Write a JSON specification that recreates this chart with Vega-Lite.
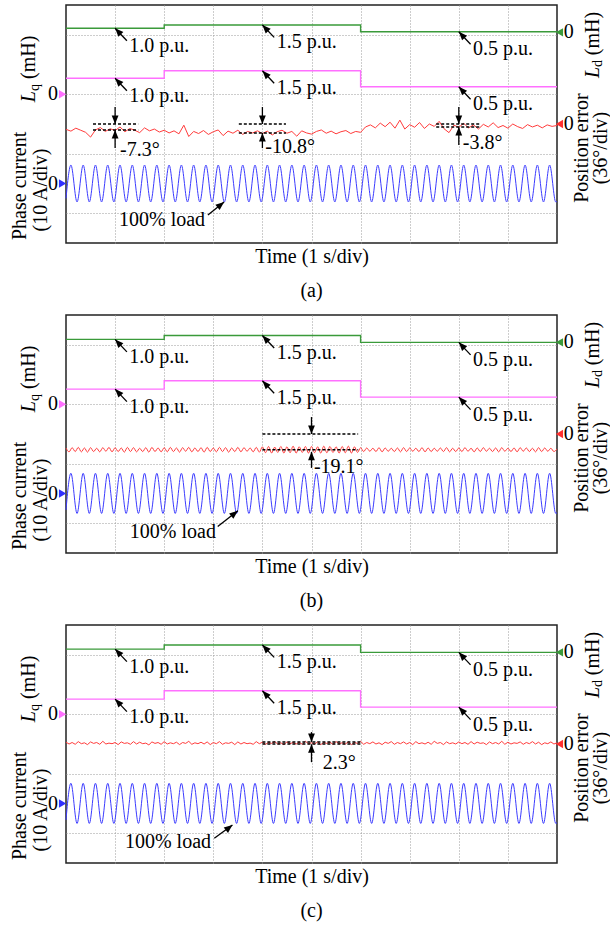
{
"$schema":"https://vega.github.io/schema/vega-lite/v6.json",
"background":"white",
"padding":{"left":9,"top":4,"right":0,"bottom":4},
"bounds":"flush",
"spacing":72,
"config":{
 "view":{"stroke":"#222222","strokeWidth":1.5},
 "axis":{"labels":false,"ticks":false,"domain":false,"grid":true,"gridColor":"#9a9a9a","gridDash":[1,2],"gridWidth":1,"titleFont":"Liberation Serif","titleFontSize":20,"titleFontWeight":"normal","titleColor":"#000000","titlePadding":3},
 "title":{"orient":"bottom","font":"Liberation Serif","fontSize":20,"fontWeight":"normal","color":"#000000","frame":"group","anchor":"middle","offset":15},
 "text":{"font":"Liberation Serif","fontSize":20,"color":"#000000"}
},
"datasets":{
"steps":[{"p":"a","c":"g","t":0,"v":7.22},{"p":"a","c":"g","t":2,"v":7.33},{"p":"a","c":"g","t":6,"v":7.1},{"p":"a","c":"g","t":10,"v":7.1},
{"p":"a","c":"m","t":0,"v":5.54},{"p":"a","c":"m","t":2,"v":5.79},{"p":"a","c":"m","t":6,"v":5.25},{"p":"a","c":"m","t":10,"v":5.25},
{"p":"b","c":"g","t":0,"v":7.18},{"p":"b","c":"g","t":2,"v":7.31},{"p":"b","c":"g","t":6,"v":7.08},{"p":"b","c":"g","t":10,"v":7.08},
{"p":"b","c":"m","t":0,"v":5.51},{"p":"b","c":"m","t":2,"v":5.79},{"p":"b","c":"m","t":6,"v":5.24},{"p":"b","c":"m","t":10,"v":5.24},
{"p":"c","c":"g","t":0,"v":7.19},{"p":"c","c":"g","t":2,"v":7.33},{"p":"c","c":"g","t":6,"v":7.08},{"p":"c","c":"g","t":10,"v":7.08},
{"p":"c","c":"m","t":0,"v":5.51},{"p":"c","c":"m","t":2,"v":5.79},{"p":"c","c":"m","t":6,"v":5.24},{"p":"c","c":"m","t":10,"v":5.24}],
"labels":[{"p":"a","t":1.29,"v":6.63,"txt":"1.0 p.u."},{"p":"a","t":4.29,"v":6.74,"txt":"1.5 p.u."},{"p":"a","t":8.29,"v":6.51,"txt":"0.5 p.u."},{"p":"a","t":1.29,"v":4.95,"txt":"1.0 p.u."},{"p":"a","t":4.29,"v":5.2,"txt":"1.5 p.u."},{"p":"a","t":8.29,"v":4.66,"txt":"0.5 p.u."},{"p":"a","t":1.08,"v":0.77,"txt":"100% load"},{"p":"a","t":1.1,"v":3.13,"txt":"-7.3°"},{"p":"a","t":4.06,"v":3.23,"txt":"-10.8°"},{"p":"a","t":8.08,"v":3.36,"txt":"-3.8°"},
{"p":"b","t":1.29,"v":6.59,"txt":"1.0 p.u."},{"p":"b","t":4.29,"v":6.72,"txt":"1.5 p.u."},{"p":"b","t":8.29,"v":6.49,"txt":"0.5 p.u."},{"p":"b","t":1.29,"v":4.92,"txt":"1.0 p.u."},{"p":"b","t":4.29,"v":5.2,"txt":"1.5 p.u."},{"p":"b","t":8.29,"v":4.65,"txt":"0.5 p.u."},{"p":"b","t":1.3,"v":0.72,"txt":"100% load"},{"p":"b","t":5.05,"v":2.89,"txt":"-19.1°"},
{"p":"c","t":1.29,"v":6.6,"txt":"1.0 p.u."},{"p":"c","t":4.29,"v":6.74,"txt":"1.5 p.u."},{"p":"c","t":8.29,"v":6.49,"txt":"0.5 p.u."},{"p":"c","t":1.29,"v":4.92,"txt":"1.0 p.u."},{"p":"c","t":4.29,"v":5.2,"txt":"1.5 p.u."},{"p":"c","t":8.29,"v":4.65,"txt":"0.5 p.u."},{"p":"c","t":1.2,"v":0.72,"txt":"100% load"},{"p":"c","t":5.23,"v":3.36,"txt":"2.3°"}],
"arrows":[{"p":"a","d":"ul","t":1.24,"v":6.8,"t2":1,"v2":7.22},{"p":"a","d":"ul","t":4.24,"v":6.91,"t2":4,"v2":7.33},{"p":"a","d":"ul","t":8.24,"v":6.68,"t2":8,"v2":7.1},
{"p":"a","d":"ul","t":1.24,"v":5.12,"t2":1,"v2":5.54},{"p":"a","d":"ul","t":4.24,"v":5.37,"t2":4,"v2":5.79},{"p":"a","d":"ul","t":8.24,"v":4.83,"t2":8,"v2":5.25},
{"p":"a","d":"ur","t":2.89,"v":0.94,"t2":3.22,"v2":1.38},
{"p":"a","d":"dn","t":1,"v":4.57,"t2":1,"v2":4.0},{"p":"a","d":"up","t":1,"v":3.19,"t2":1,"v2":3.8},
{"p":"a","d":"dn","t":4,"v":4.57,"t2":4,"v2":4.0},{"p":"a","d":"up","t":4,"v":3.19,"t2":4,"v2":3.7},
{"p":"a","d":"dn","t":8,"v":4.57,"t2":8,"v2":4.0},{"p":"a","d":"up","t":8,"v":3.29,"t2":8,"v2":3.9},
{"p":"b","d":"ul","t":1.24,"v":6.76,"t2":1,"v2":7.18},{"p":"b","d":"ul","t":4.24,"v":6.89,"t2":4,"v2":7.31},{"p":"b","d":"ul","t":8.24,"v":6.66,"t2":8,"v2":7.08},
{"p":"b","d":"ul","t":1.24,"v":5.09,"t2":1,"v2":5.51},{"p":"b","d":"ul","t":4.24,"v":5.37,"t2":4,"v2":5.79},{"p":"b","d":"ul","t":8.24,"v":4.82,"t2":8,"v2":5.24},
{"p":"b","d":"ur","t":3.09,"v":0.89,"t2":3.5,"v2":1.42},
{"p":"b","d":"dn","t":5,"v":4.57,"t2":5,"v2":4.0},{"p":"b","d":"up","t":5,"v":2.86,"t2":5,"v2":3.4},
{"p":"c","d":"ul","t":1.24,"v":6.77,"t2":1,"v2":7.19},{"p":"c","d":"ul","t":4.24,"v":6.91,"t2":4,"v2":7.33},{"p":"c","d":"ul","t":8.24,"v":6.66,"t2":8,"v2":7.08},
{"p":"c","d":"ul","t":1.24,"v":5.09,"t2":1,"v2":5.51},{"p":"c","d":"ul","t":4.24,"v":5.37,"t2":4,"v2":5.79},{"p":"c","d":"ul","t":8.24,"v":4.82,"t2":8,"v2":5.24},
{"p":"c","d":"ur","t":3.02,"v":0.83,"t2":3.39,"v2":1.28},
{"p":"c","d":"dn","t":5,"v":4.4,"t2":5,"v2":4.07},{"p":"c","d":"up","t":5,"v":3.39,"t2":5,"v2":3.99}],
"dash":[{"p":"a","t":0.55,"t2":1.47,"v":4.0},{"p":"a","t":0.55,"t2":1.47,"v":3.8},{"p":"a","t":3.52,"t2":4.48,"v":4.0},{"p":"a","t":3.52,"t2":4.48,"v":3.7},{"p":"a","t":7.54,"t2":8.45,"v":4.0},{"p":"a","t":7.54,"t2":8.45,"v":3.9},
{"p":"b","t":4.0,"t2":5.95,"v":4.0},{"p":"b","t":4.0,"t2":5.95,"v":3.47},
{"p":"c","t":4.0,"t2":6.0,"v":4.064},{"p":"c","t":4.0,"t2":6.0,"v":4.0}],
"side":[{"k":"r","t":-0.754,"v":6.24,"txt":"(mH)"},{"k":"i","t":-0.754,"v":4.92,"txt":"L"},{"k":"s","t":-0.641,"v":5.23,"txt":"q"},{"k":"r","t":-0.937,"v":1.92,"txt":"Phase current"},{"k":"r","t":-0.509,"v":1.78,"txt":"(10 A/div)"},
{"k":"i","t":10.733,"v":5.73,"txt":"L"},{"k":"s","t":10.845,"v":6.03,"txt":"d"},{"k":"r","t":10.733,"v":7.04,"txt":"(mH)"},{"k":"r","t":10.51,"v":3.19,"txt":"Position error"},{"k":"r","t":10.896,"v":3.19,"txt":"(36°/div)"},
{"k":"z","t":-0.265,"v":5,"txt":"0"},{"k":"z","t":-0.265,"v":2,"txt":"0"},{"k":"z","t":10.24,"v":7.08,"txt":"0"},{"k":"z","t":10.24,"v":4,"txt":"0"}],
"tri":[{"s":"m","side":"L","t":-0.07,"v":5},{"s":"b","side":"L","t":-0.07,"v":2},{"s":"g","side":"R","t":10.05,"v":7.08},{"s":"r","side":"R","t":10.05,"v":4}],
"cur_a":[{"t":0,"v":1.5},
{"t":0.1,"v":2.62},{"t":0.225,"v":1.38},{"t":0.35,"v":2.62},{"t":0.475,"v":1.38},{"t":0.6,"v":2.62},{"t":0.725,"v":1.38},{"t":0.85,"v":2.62},{"t":0.975,"v":1.38},
{"t":1.1,"v":2.62},{"t":1.225,"v":1.38},{"t":1.35,"v":2.62},{"t":1.475,"v":1.38},{"t":1.6,"v":2.62},{"t":1.725,"v":1.38},{"t":1.85,"v":2.62},{"t":1.975,"v":1.38},
{"t":2.1,"v":2.62},{"t":2.225,"v":1.38},{"t":2.35,"v":2.62},{"t":2.475,"v":1.38},{"t":2.6,"v":2.62},{"t":2.725,"v":1.38},{"t":2.85,"v":2.62},{"t":2.975,"v":1.38},
{"t":3.1,"v":2.62},{"t":3.225,"v":1.38},{"t":3.35,"v":2.62},{"t":3.475,"v":1.38},{"t":3.6,"v":2.62},{"t":3.725,"v":1.38},{"t":3.85,"v":2.62},{"t":3.975,"v":1.38},
{"t":4.1,"v":2.62},{"t":4.225,"v":1.38},{"t":4.35,"v":2.62},{"t":4.475,"v":1.38},{"t":4.6,"v":2.62},{"t":4.725,"v":1.38},{"t":4.85,"v":2.62},{"t":4.975,"v":1.38},
{"t":5.1,"v":2.62},{"t":5.225,"v":1.38},{"t":5.35,"v":2.62},{"t":5.475,"v":1.38},{"t":5.6,"v":2.62},{"t":5.725,"v":1.38},{"t":5.85,"v":2.62},{"t":5.975,"v":1.38},
{"t":6.1,"v":2.62},{"t":6.225,"v":1.38},{"t":6.35,"v":2.62},{"t":6.475,"v":1.38},{"t":6.6,"v":2.62},{"t":6.725,"v":1.38},{"t":6.85,"v":2.62},{"t":6.975,"v":1.38},
{"t":7.1,"v":2.62},{"t":7.225,"v":1.38},{"t":7.35,"v":2.62},{"t":7.475,"v":1.38},{"t":7.6,"v":2.62},{"t":7.725,"v":1.38},{"t":7.85,"v":2.62},{"t":7.975,"v":1.38},
{"t":8.1,"v":2.62},{"t":8.225,"v":1.38},{"t":8.35,"v":2.62},{"t":8.475,"v":1.38},{"t":8.6,"v":2.62},{"t":8.725,"v":1.38},{"t":8.85,"v":2.62},{"t":8.975,"v":1.38},
{"t":9.1,"v":2.62},{"t":9.225,"v":1.38},{"t":9.35,"v":2.62},{"t":9.475,"v":1.38},{"t":9.6,"v":2.62},{"t":9.725,"v":1.38},{"t":9.85,"v":2.62},{"t":9.975,"v":1.38},
{"t":10,"v":1.4}],
"cur_bc":[{"t":0,"v":1.45},
{"t":0.1,"v":2.68},{"t":0.225,"v":1.33},{"t":0.35,"v":2.68},{"t":0.475,"v":1.33},{"t":0.6,"v":2.68},{"t":0.725,"v":1.33},{"t":0.85,"v":2.68},{"t":0.975,"v":1.33},
{"t":1.1,"v":2.68},{"t":1.225,"v":1.33},{"t":1.35,"v":2.68},{"t":1.475,"v":1.33},{"t":1.6,"v":2.68},{"t":1.725,"v":1.33},{"t":1.85,"v":2.68},{"t":1.975,"v":1.33},
{"t":2.1,"v":2.68},{"t":2.225,"v":1.33},{"t":2.35,"v":2.68},{"t":2.475,"v":1.33},{"t":2.6,"v":2.68},{"t":2.725,"v":1.33},{"t":2.85,"v":2.68},{"t":2.975,"v":1.33},
{"t":3.1,"v":2.68},{"t":3.225,"v":1.33},{"t":3.35,"v":2.68},{"t":3.475,"v":1.33},{"t":3.6,"v":2.68},{"t":3.725,"v":1.33},{"t":3.85,"v":2.68},{"t":3.975,"v":1.33},
{"t":4.1,"v":2.68},{"t":4.225,"v":1.33},{"t":4.35,"v":2.68},{"t":4.475,"v":1.33},{"t":4.6,"v":2.68},{"t":4.725,"v":1.33},{"t":4.85,"v":2.68},{"t":4.975,"v":1.33},
{"t":5.1,"v":2.68},{"t":5.225,"v":1.33},{"t":5.35,"v":2.68},{"t":5.475,"v":1.33},{"t":5.6,"v":2.68},{"t":5.725,"v":1.33},{"t":5.85,"v":2.68},{"t":5.975,"v":1.33},
{"t":6.1,"v":2.68},{"t":6.225,"v":1.33},{"t":6.35,"v":2.68},{"t":6.475,"v":1.33},{"t":6.6,"v":2.68},{"t":6.725,"v":1.33},{"t":6.85,"v":2.68},{"t":6.975,"v":1.33},
{"t":7.1,"v":2.68},{"t":7.225,"v":1.33},{"t":7.35,"v":2.68},{"t":7.475,"v":1.33},{"t":7.6,"v":2.68},{"t":7.725,"v":1.33},{"t":7.85,"v":2.68},{"t":7.975,"v":1.33},
{"t":8.1,"v":2.68},{"t":8.225,"v":1.33},{"t":8.35,"v":2.68},{"t":8.475,"v":1.33},{"t":8.6,"v":2.68},{"t":8.725,"v":1.33},{"t":8.85,"v":2.68},{"t":8.975,"v":1.33},
{"t":9.1,"v":2.68},{"t":9.225,"v":1.33},{"t":9.35,"v":2.68},{"t":9.475,"v":1.33},{"t":9.6,"v":2.68},{"t":9.725,"v":1.33},{"t":9.85,"v":2.68},{"t":9.975,"v":1.33},
{"t":10,"v":1.36}],
"err_a":[{"t":0,"v":3.82},{"t":0.1,"v":3.76},{"t":0.2,"v":3.86},{"t":0.3,"v":3.79},{"t":0.4,"v":3.72},{"t":0.5,"v":3.56},{"t":0.6,"v":3.8},{"t":0.7,"v":3.88},{"t":0.8,"v":3.75},{"t":0.9,"v":3.84},
{"t":1,"v":3.78},{"t":1.1,"v":3.9},{"t":1.2,"v":3.74},{"t":1.3,"v":3.85},{"t":1.4,"v":3.79},{"t":1.5,"v":3.71},{"t":1.6,"v":3.87},{"t":1.7,"v":3.77},{"t":1.8,"v":3.83},{"t":1.9,"v":3.73},
{"t":2,"v":3.79},{"t":2.1,"v":3.7},{"t":2.2,"v":3.77},{"t":2.3,"v":3.67},{"t":2.4,"v":3.96},{"t":2.5,"v":3.58},{"t":2.6,"v":3.75},{"t":2.7,"v":3.68},{"t":2.8,"v":3.78},{"t":2.9,"v":3.65},
{"t":3,"v":3.74},{"t":3.1,"v":3.8},{"t":3.2,"v":3.61},{"t":3.3,"v":3.76},{"t":3.4,"v":3.69},{"t":3.5,"v":3.79},{"t":3.6,"v":3.65},{"t":3.7,"v":3.75},{"t":3.8,"v":3.7},{"t":3.9,"v":3.77},
{"t":4,"v":3.68},{"t":4.1,"v":3.76},{"t":4.2,"v":3.63},{"t":4.3,"v":3.74},{"t":4.4,"v":3.79},{"t":4.5,"v":3.69},{"t":4.6,"v":3.75},{"t":4.7,"v":3.59},{"t":4.8,"v":3.77},{"t":4.9,"v":3.7},
{"t":5,"v":3.66},{"t":5.1,"v":3.75},{"t":5.2,"v":3.8},{"t":5.3,"v":3.69},{"t":5.4,"v":3.76},{"t":5.5,"v":3.67},{"t":5.6,"v":3.74},{"t":5.7,"v":3.78},{"t":5.8,"v":3.68},{"t":5.9,"v":3.75},
{"t":6,"v":3.72},{"t":6.1,"v":3.9},{"t":6.2,"v":3.97},{"t":6.3,"v":3.87},{"t":6.4,"v":4.03},{"t":6.5,"v":3.91},{"t":6.6,"v":4.06},{"t":6.7,"v":3.86},{"t":6.8,"v":4.13},{"t":6.9,"v":3.83},
{"t":7,"v":3.98},{"t":7.1,"v":3.89},{"t":7.2,"v":4.05},{"t":7.3,"v":3.85},{"t":7.4,"v":4.0},{"t":7.5,"v":3.92},{"t":7.6,"v":4.09},{"t":7.7,"v":3.84},{"t":7.8,"v":3.71},{"t":7.9,"v":3.96},
{"t":8,"v":3.89},{"t":8.1,"v":4.02},{"t":8.2,"v":3.87},{"t":8.3,"v":3.97},{"t":8.4,"v":3.83},{"t":8.5,"v":3.99},{"t":8.6,"v":3.9},{"t":8.7,"v":4.04},{"t":8.8,"v":3.88},{"t":8.9,"v":3.95},
{"t":9,"v":3.86},{"t":9.1,"v":4.0},{"t":9.2,"v":3.91},{"t":9.3,"v":3.85},{"t":9.4,"v":3.98},{"t":9.5,"v":3.9},{"t":9.6,"v":3.96},{"t":9.7,"v":3.87},{"t":9.8,"v":3.97},{"t":9.9,"v":3.92},{"t":10,"v":3.95}],
"err_b":[
{"t":0,"v":3.53},{"t":0.0625,"v":3.4},{"t":0.125,"v":3.54},{"t":0.1875,"v":3.41},{"t":0.25,"v":3.55},{"t":0.3125,"v":3.4},{"t":0.375,"v":3.53},{"t":0.4375,"v":3.39},{"t":0.5,"v":3.54},{"t":0.5625,"v":3.41},{"t":0.625,"v":3.52},{"t":0.6875,"v":3.4},{"t":0.75,"v":3.54},{"t":0.8125,"v":3.42},{"t":0.875,"v":3.55},{"t":0.9375,"v":3.4},
{"t":1,"v":3.54},{"t":1.0625,"v":3.41},{"t":1.125,"v":3.53},{"t":1.1875,"v":3.39},{"t":1.25,"v":3.55},{"t":1.3125,"v":3.41},{"t":1.375,"v":3.54},{"t":1.4375,"v":3.4},{"t":1.5,"v":3.52},{"t":1.5625,"v":3.41},{"t":1.625,"v":3.54},{"t":1.6875,"v":3.39},{"t":1.75,"v":3.55},{"t":1.8125,"v":3.41},{"t":1.875,"v":3.53},{"t":1.9375,"v":3.4},
{"t":2,"v":3.54},{"t":2.0625,"v":3.4},{"t":2.125,"v":3.55},{"t":2.1875,"v":3.41},{"t":2.25,"v":3.53},{"t":2.3125,"v":3.39},{"t":2.375,"v":3.54},{"t":2.4375,"v":3.42},{"t":2.5,"v":3.55},{"t":2.5625,"v":3.4},{"t":2.625,"v":3.53},{"t":2.6875,"v":3.41},{"t":2.75,"v":3.54},{"t":2.8125,"v":3.39},{"t":2.875,"v":3.55},{"t":2.9375,"v":3.41},
{"t":3,"v":3.53},{"t":3.0625,"v":3.4},{"t":3.125,"v":3.55},{"t":3.1875,"v":3.41},{"t":3.25,"v":3.54},{"t":3.3125,"v":3.39},{"t":3.375,"v":3.53},{"t":3.4375,"v":3.41},{"t":3.5,"v":3.55},{"t":3.5625,"v":3.4},{"t":3.625,"v":3.54},{"t":3.6875,"v":3.42},{"t":3.75,"v":3.53},{"t":3.8125,"v":3.4},{"t":3.875,"v":3.55},{"t":3.9375,"v":3.39},
{"t":4,"v":3.57},{"t":4.0625,"v":3.37},{"t":4.125,"v":3.58},{"t":4.1875,"v":3.36},{"t":4.25,"v":3.56},{"t":4.3125,"v":3.38},{"t":4.375,"v":3.58},{"t":4.4375,"v":3.36},{"t":4.5,"v":3.57},{"t":4.5625,"v":3.37},{"t":4.625,"v":3.59},{"t":4.6875,"v":3.36},{"t":4.75,"v":3.57},{"t":4.8125,"v":3.38},{"t":4.875,"v":3.58},{"t":4.9375,"v":3.36},
{"t":5,"v":3.58},{"t":5.0625,"v":3.37},{"t":5.125,"v":3.57},{"t":5.1875,"v":3.36},{"t":5.25,"v":3.59},{"t":5.3125,"v":3.37},{"t":5.375,"v":3.58},{"t":5.4375,"v":3.38},{"t":5.5,"v":3.57},{"t":5.5625,"v":3.36},{"t":5.625,"v":3.58},{"t":5.6875,"v":3.37},{"t":5.75,"v":3.59},{"t":5.8125,"v":3.36},{"t":5.875,"v":3.57},{"t":5.9375,"v":3.38},
{"t":6,"v":3.54},{"t":6.0625,"v":3.41},{"t":6.125,"v":3.53},{"t":6.1875,"v":3.42},{"t":6.25,"v":3.52},{"t":6.3125,"v":3.41},{"t":6.375,"v":3.54},{"t":6.4375,"v":3.4},{"t":6.5,"v":3.53},{"t":6.5625,"v":3.42},{"t":6.625,"v":3.52},{"t":6.6875,"v":3.41},{"t":6.75,"v":3.53},{"t":6.8125,"v":3.4},{"t":6.875,"v":3.54},{"t":6.9375,"v":3.41},
{"t":7,"v":3.53},{"t":7.0625,"v":3.42},{"t":7.125,"v":3.52},{"t":7.1875,"v":3.41},{"t":7.25,"v":3.54},{"t":7.3125,"v":3.4},{"t":7.375,"v":3.53},{"t":7.4375,"v":3.41},{"t":7.5,"v":3.52},{"t":7.5625,"v":3.42},{"t":7.625,"v":3.53},{"t":7.6875,"v":3.41},{"t":7.75,"v":3.54},{"t":7.8125,"v":3.4},{"t":7.875,"v":3.52},{"t":7.9375,"v":3.41},
{"t":8,"v":3.53},{"t":8.0625,"v":3.41},{"t":8.125,"v":3.54},{"t":8.1875,"v":3.42},{"t":8.25,"v":3.52},{"t":8.3125,"v":3.4},{"t":8.375,"v":3.53},{"t":8.4375,"v":3.41},{"t":8.5,"v":3.54},{"t":8.5625,"v":3.42},{"t":8.625,"v":3.52},{"t":8.6875,"v":3.41},{"t":8.75,"v":3.53},{"t":8.8125,"v":3.4},{"t":8.875,"v":3.54},{"t":8.9375,"v":3.42},
{"t":9,"v":3.52},{"t":9.0625,"v":3.41},{"t":9.125,"v":3.53},{"t":9.1875,"v":3.4},{"t":9.25,"v":3.54},{"t":9.3125,"v":3.42},{"t":9.375,"v":3.53},{"t":9.4375,"v":3.41},{"t":9.5,"v":3.52},{"t":9.5625,"v":3.4},{"t":9.625,"v":3.54},{"t":9.6875,"v":3.41},{"t":9.75,"v":3.53},{"t":9.8125,"v":3.42},{"t":9.875,"v":3.52},{"t":9.9375,"v":3.41},
{"t":10,"v":3.5}],
"err_c":[
{"t":0,"v":4.06},{"t":0.0625,"v":4.0},{"t":0.125,"v":4.05},{"t":0.1875,"v":3.99},{"t":0.25,"v":4.08},{"t":0.3125,"v":4.01},{"t":0.375,"v":4.04},{"t":0.4375,"v":3.98},{"t":0.5,"v":4.07},{"t":0.5625,"v":4.02},{"t":0.625,"v":4.05},{"t":0.6875,"v":3.99},{"t":0.75,"v":4.09},{"t":0.8125,"v":4.0},{"t":0.875,"v":4.03},{"t":0.9375,"v":4.01},
{"t":1,"v":4.05},{"t":1.0625,"v":3.98},{"t":1.125,"v":4.07},{"t":1.1875,"v":4.02},{"t":1.25,"v":4.04},{"t":1.3125,"v":3.99},{"t":1.375,"v":4.08},{"t":1.4375,"v":4.0},{"t":1.5,"v":4.06},{"t":1.5625,"v":4.01},{"t":1.625,"v":4.03},{"t":1.6875,"v":3.97},{"t":1.75,"v":4.07},{"t":1.8125,"v":4.02},{"t":1.875,"v":4.05},{"t":1.9375,"v":3.99},
{"t":2,"v":4.08},{"t":2.0625,"v":4.0},{"t":2.125,"v":4.04},{"t":2.1875,"v":4.01},{"t":2.25,"v":4.06},{"t":2.3125,"v":3.98},{"t":2.375,"v":4.05},{"t":2.4375,"v":4.02},{"t":2.5,"v":4.09},{"t":2.5625,"v":3.99},{"t":2.625,"v":4.04},{"t":2.6875,"v":4.01},{"t":2.75,"v":4.06},{"t":2.8125,"v":4.0},{"t":2.875,"v":4.07},{"t":2.9375,"v":3.98},
{"t":3,"v":4.05},{"t":3.0625,"v":4.01},{"t":3.125,"v":4.08},{"t":3.1875,"v":3.99},{"t":3.25,"v":4.04},{"t":3.3125,"v":4.02},{"t":3.375,"v":4.06},{"t":3.4375,"v":3.98},{"t":3.5,"v":4.07},{"t":3.5625,"v":4.0},{"t":3.625,"v":4.05},{"t":3.6875,"v":4.01},{"t":3.75,"v":4.03},{"t":3.8125,"v":3.99},{"t":3.875,"v":4.08},{"t":3.9375,"v":4.01},
{"t":4,"v":4.06},{"t":4.0625,"v":3.99},{"t":4.125,"v":4.05},{"t":4.1875,"v":4.02},{"t":4.25,"v":4.08},{"t":4.3125,"v":4.0},{"t":4.375,"v":4.04},{"t":4.4375,"v":3.98},{"t":4.5,"v":4.07},{"t":4.5625,"v":4.01},{"t":4.625,"v":4.05},{"t":4.6875,"v":4.0},{"t":4.75,"v":4.06},{"t":4.8125,"v":3.99},{"t":4.875,"v":4.09},{"t":4.9375,"v":4.01},
{"t":5,"v":4.04},{"t":5.0625,"v":4.0},{"t":5.125,"v":4.07},{"t":5.1875,"v":3.98},{"t":5.25,"v":4.05},{"t":5.3125,"v":4.02},{"t":5.375,"v":4.06},{"t":5.4375,"v":3.99},{"t":5.5,"v":4.08},{"t":5.5625,"v":4.01},{"t":5.625,"v":4.04},{"t":5.6875,"v":4.0},{"t":5.75,"v":4.07},{"t":5.8125,"v":3.98},{"t":5.875,"v":4.05},{"t":5.9375,"v":4.02},
{"t":6,"v":4.09},{"t":6.0625,"v":3.99},{"t":6.125,"v":4.05},{"t":6.1875,"v":4.01},{"t":6.25,"v":4.07},{"t":6.3125,"v":4.0},{"t":6.375,"v":4.04},{"t":6.4375,"v":3.98},{"t":6.5,"v":4.06},{"t":6.5625,"v":4.02},{"t":6.625,"v":4.08},{"t":6.6875,"v":3.99},{"t":6.75,"v":4.05},{"t":6.8125,"v":4.01},{"t":6.875,"v":4.07},{"t":6.9375,"v":4.0},
{"t":7,"v":4.05},{"t":7.0625,"v":3.98},{"t":7.125,"v":4.08},{"t":7.1875,"v":4.01},{"t":7.25,"v":4.04},{"t":7.3125,"v":4.0},{"t":7.375,"v":4.06},{"t":7.4375,"v":3.99},{"t":7.5,"v":4.09},{"t":7.5625,"v":4.02},{"t":7.625,"v":4.05},{"t":7.6875,"v":3.98},{"t":7.75,"v":4.07},{"t":7.8125,"v":4.01},{"t":7.875,"v":4.04},{"t":7.9375,"v":4.0},
{"t":8,"v":4.07},{"t":8.0625,"v":4.01},{"t":8.125,"v":4.05},{"t":8.1875,"v":3.99},{"t":8.25,"v":4.08},{"t":8.3125,"v":4.0},{"t":8.375,"v":4.06},{"t":8.4375,"v":4.02},{"t":8.5,"v":4.04},{"t":8.5625,"v":3.98},{"t":8.625,"v":4.07},{"t":8.6875,"v":4.01},{"t":8.75,"v":4.05},{"t":8.8125,"v":4.0},{"t":8.875,"v":4.09},{"t":8.9375,"v":3.99},
{"t":9,"v":4.06},{"t":9.0625,"v":4.0},{"t":9.125,"v":4.04},{"t":9.1875,"v":4.02},{"t":9.25,"v":4.07},{"t":9.3125,"v":3.99},{"t":9.375,"v":4.05},{"t":9.4375,"v":4.01},{"t":9.5,"v":4.08},{"t":9.5625,"v":4.0},{"t":9.625,"v":4.06},{"t":9.6875,"v":3.98},{"t":9.75,"v":4.04},{"t":9.8125,"v":4.01},{"t":9.875,"v":4.07},{"t":9.9375,"v":4.0},
{"t":10,"v":4.04}]
},
"vconcat":[
{"width":491,"height":238,"title":"(a)","layer":[
{"data":{"name":"steps"},"transform":[{"filter":"datum.p==='a'"}],"mark":{"type":"line","interpolate":"step-after","strokeWidth":1.4},"encoding":{"x":{"field":"t","type":"quantitative","scale":{"domain":[0,10]},"title":"Time (1 s/div)","axis":{"values":[1,2,3,4,5,6,7,8,9]}},"y":{"field":"v","type":"quantitative","scale":{"domain":[0,8]},"title":null,"axis":{"values":[1,2,3,4,5,6,7]}},"color":{"field":"c","type":"nominal","scale":{"domain":["g","m","r","b"],"range":["#3a9a3a","#ff70ff","#ff3030","#3030ff"]},"legend":null}}},
{"data":{"name":"err_a"},"mark":{"type":"line","color":"#ff3b3b","strokeWidth":1},"encoding":{"x":{"field":"t","type":"quantitative","scale":{"domain":[0,10]},"title":"Time (1 s/div)"},"y":{"field":"v","type":"quantitative","scale":{"domain":[0,8]},"title":null}}},
{"data":{"name":"cur_a"},"mark":{"type":"line","interpolate":"monotone","color":"#3b3bff","strokeWidth":1},"encoding":{"x":{"field":"t","type":"quantitative","scale":{"domain":[0,10]},"title":"Time (1 s/div)"},"y":{"field":"v","type":"quantitative","scale":{"domain":[0,8]},"title":null}}},
{"data":{"name":"dash"},"transform":[{"filter":"datum.p==='a'"}],"mark":{"type":"rule","color":"#000000","strokeDash":[3,2],"strokeWidth":1.5},"encoding":{"x":{"field":"t","type":"quantitative","scale":{"domain":[0,10]},"title":"Time (1 s/div)"},"x2":{"field":"t2"},"y":{"field":"v","type":"quantitative","scale":{"domain":[0,8]},"title":null}}},
{"data":{"name":"arrows"},"transform":[{"filter":"datum.p==='a'"}],"mark":{"type":"rule","color":"#000000","strokeWidth":1.3},"encoding":{"x":{"field":"t","type":"quantitative","scale":{"domain":[0,10]},"title":"Time (1 s/div)"},"y":{"field":"v","type":"quantitative","scale":{"domain":[0,8]},"title":null},"x2":{"field":"t2"},"y2":{"field":"v2"}}},
{"data":{"name":"arrows"},"transform":[{"filter":"datum.p==='a' && datum.d==='ul'"}],"mark":{"type":"point","shape":"M0,0L-0.8,2L0.8,2Z","filled":true,"color":"#000000","opacity":1,"size":72,"angle":317,"strokeWidth":0},"encoding":{"x":{"field":"t2","type":"quantitative","scale":{"domain":[0,10]},"title":"Time (1 s/div)"},"y":{"field":"v2","type":"quantitative","scale":{"domain":[0,8]},"title":null}}},
{"data":{"name":"arrows"},"transform":[{"filter":"datum.p==='a' && datum.d==='ur'"}],"mark":{"type":"point","shape":"M0,0L-0.8,2L0.8,2Z","filled":true,"color":"#000000","opacity":1,"size":72,"angle":51,"strokeWidth":0},"encoding":{"x":{"field":"t2","type":"quantitative","scale":{"domain":[0,10]},"title":"Time (1 s/div)"},"y":{"field":"v2","type":"quantitative","scale":{"domain":[0,8]},"title":null}}},
{"data":{"name":"arrows"},"transform":[{"filter":"datum.p==='a' && datum.d==='dn'"}],"mark":{"type":"point","shape":"M0,0L-0.8,2L0.8,2Z","filled":true,"color":"#000000","opacity":1,"size":72,"angle":180,"strokeWidth":0},"encoding":{"x":{"field":"t2","type":"quantitative","scale":{"domain":[0,10]},"title":"Time (1 s/div)"},"y":{"field":"v2","type":"quantitative","scale":{"domain":[0,8]},"title":null}}},
{"data":{"name":"arrows"},"transform":[{"filter":"datum.p==='a' && datum.d==='up'"}],"mark":{"type":"point","shape":"M0,0L-0.8,2L0.8,2Z","filled":true,"color":"#000000","opacity":1,"size":72,"angle":0,"strokeWidth":0},"encoding":{"x":{"field":"t2","type":"quantitative","scale":{"domain":[0,10]},"title":"Time (1 s/div)"},"y":{"field":"v2","type":"quantitative","scale":{"domain":[0,8]},"title":null}}},
{"data":{"name":"labels"},"transform":[{"filter":"datum.p==='a'"}],"mark":{"type":"text","align":"left","baseline":"middle"},"encoding":{"x":{"field":"t","type":"quantitative","scale":{"domain":[0,10]},"title":"Time (1 s/div)"},"y":{"field":"v","type":"quantitative","scale":{"domain":[0,8]},"title":null},"text":{"field":"txt"}}},
{"data":{"name":"side"},"transform":[{"filter":"datum.k==='r'"}],"mark":{"type":"text","angle":270,"align":"center","baseline":"middle"},"encoding":{"x":{"field":"t","type":"quantitative","scale":{"domain":[0,10]},"title":"Time (1 s/div)"},"y":{"field":"v","type":"quantitative","scale":{"domain":[0,8]},"title":null},"text":{"field":"txt"}}},
{"data":{"name":"side"},"transform":[{"filter":"datum.k==='i'"}],"mark":{"type":"text","angle":270,"align":"center","baseline":"middle","fontStyle":"italic"},"encoding":{"x":{"field":"t","type":"quantitative","scale":{"domain":[0,10]},"title":"Time (1 s/div)"},"y":{"field":"v","type":"quantitative","scale":{"domain":[0,8]},"title":null},"text":{"field":"txt"}}},
{"data":{"name":"side"},"transform":[{"filter":"datum.k==='s'"}],"mark":{"type":"text","angle":270,"align":"center","baseline":"middle","fontSize":14},"encoding":{"x":{"field":"t","type":"quantitative","scale":{"domain":[0,10]},"title":"Time (1 s/div)"},"y":{"field":"v","type":"quantitative","scale":{"domain":[0,8]},"title":null},"text":{"field":"txt"}}},
{"data":{"name":"side"},"transform":[{"filter":"datum.k==='z'"}],"mark":{"type":"text","align":"center","baseline":"middle"},"encoding":{"x":{"field":"t","type":"quantitative","scale":{"domain":[0,10]},"title":"Time (1 s/div)"},"y":{"field":"v","type":"quantitative","scale":{"domain":[0,8]},"title":null},"text":{"field":"txt"}}},
{"data":{"name":"tri"},"transform":[{"filter":"datum.side==='L'"}],"mark":{"type":"point","shape":"triangle-right","filled":true,"opacity":1,"size":70},"encoding":{"x":{"field":"t","type":"quantitative","scale":{"domain":[0,10]},"title":"Time (1 s/div)"},"y":{"field":"v","type":"quantitative","scale":{"domain":[0,8]},"title":null},"color":{"field":"s","type":"nominal","scale":{"domain":["g","m","r","b"],"range":["#3a9a3a","#ff70ff","#ff3030","#3030ff"]},"legend":null}}},
{"data":{"name":"tri"},"transform":[{"filter":"datum.side==='R'"}],"mark":{"type":"point","shape":"triangle-left","filled":true,"opacity":1,"size":70},"encoding":{"x":{"field":"t","type":"quantitative","scale":{"domain":[0,10]},"title":"Time (1 s/div)"},"y":{"field":"v","type":"quantitative","scale":{"domain":[0,8]},"title":null},"color":{"field":"s","type":"nominal","scale":{"domain":["g","m","r","b"],"range":["#3a9a3a","#ff70ff","#ff3030","#3030ff"]},"legend":null}}}
]},
{"width":491,"height":238,"title":"(b)","layer":[
{"data":{"name":"steps"},"transform":[{"filter":"datum.p==='b'"}],"mark":{"type":"line","interpolate":"step-after","strokeWidth":1.4},"encoding":{"x":{"field":"t","type":"quantitative","scale":{"domain":[0,10]},"title":"Time (1 s/div)","axis":{"values":[1,2,3,4,5,6,7,8,9]}},"y":{"field":"v","type":"quantitative","scale":{"domain":[0,8]},"title":null,"axis":{"values":[1,2,3,4,5,6,7]}},"color":{"field":"c","type":"nominal","scale":{"domain":["g","m","r","b"],"range":["#3a9a3a","#ff70ff","#ff3030","#3030ff"]},"legend":null}}},
{"data":{"name":"err_b"},"mark":{"type":"line","interpolate":"monotone","color":"#ff3b3b","strokeWidth":1},"encoding":{"x":{"field":"t","type":"quantitative","scale":{"domain":[0,10]},"title":"Time (1 s/div)"},"y":{"field":"v","type":"quantitative","scale":{"domain":[0,8]},"title":null}}},
{"data":{"name":"cur_bc"},"mark":{"type":"line","interpolate":"monotone","color":"#3b3bff","strokeWidth":1},"encoding":{"x":{"field":"t","type":"quantitative","scale":{"domain":[0,10]},"title":"Time (1 s/div)"},"y":{"field":"v","type":"quantitative","scale":{"domain":[0,8]},"title":null}}},
{"data":{"name":"dash"},"transform":[{"filter":"datum.p==='b'"}],"mark":{"type":"rule","color":"#000000","strokeDash":[3,2],"strokeWidth":1.5},"encoding":{"x":{"field":"t","type":"quantitative","scale":{"domain":[0,10]},"title":"Time (1 s/div)"},"x2":{"field":"t2"},"y":{"field":"v","type":"quantitative","scale":{"domain":[0,8]},"title":null}}},
{"data":{"name":"arrows"},"transform":[{"filter":"datum.p==='b'"}],"mark":{"type":"rule","color":"#000000","strokeWidth":1.3},"encoding":{"x":{"field":"t","type":"quantitative","scale":{"domain":[0,10]},"title":"Time (1 s/div)"},"y":{"field":"v","type":"quantitative","scale":{"domain":[0,8]},"title":null},"x2":{"field":"t2"},"y2":{"field":"v2"}}},
{"data":{"name":"arrows"},"transform":[{"filter":"datum.p==='b' && datum.d==='ul'"}],"mark":{"type":"point","shape":"M0,0L-0.8,2L0.8,2Z","filled":true,"color":"#000000","opacity":1,"size":72,"angle":317,"strokeWidth":0},"encoding":{"x":{"field":"t2","type":"quantitative","scale":{"domain":[0,10]},"title":"Time (1 s/div)"},"y":{"field":"v2","type":"quantitative","scale":{"domain":[0,8]},"title":null}}},
{"data":{"name":"arrows"},"transform":[{"filter":"datum.p==='b' && datum.d==='ur'"}],"mark":{"type":"point","shape":"M0,0L-0.8,2L0.8,2Z","filled":true,"color":"#000000","opacity":1,"size":72,"angle":51,"strokeWidth":0},"encoding":{"x":{"field":"t2","type":"quantitative","scale":{"domain":[0,10]},"title":"Time (1 s/div)"},"y":{"field":"v2","type":"quantitative","scale":{"domain":[0,8]},"title":null}}},
{"data":{"name":"arrows"},"transform":[{"filter":"datum.p==='b' && datum.d==='dn'"}],"mark":{"type":"point","shape":"M0,0L-0.8,2L0.8,2Z","filled":true,"color":"#000000","opacity":1,"size":72,"angle":180,"strokeWidth":0},"encoding":{"x":{"field":"t2","type":"quantitative","scale":{"domain":[0,10]},"title":"Time (1 s/div)"},"y":{"field":"v2","type":"quantitative","scale":{"domain":[0,8]},"title":null}}},
{"data":{"name":"arrows"},"transform":[{"filter":"datum.p==='b' && datum.d==='up'"}],"mark":{"type":"point","shape":"M0,0L-0.8,2L0.8,2Z","filled":true,"color":"#000000","opacity":1,"size":72,"angle":0,"strokeWidth":0},"encoding":{"x":{"field":"t2","type":"quantitative","scale":{"domain":[0,10]},"title":"Time (1 s/div)"},"y":{"field":"v2","type":"quantitative","scale":{"domain":[0,8]},"title":null}}},
{"data":{"name":"labels"},"transform":[{"filter":"datum.p==='b'"}],"mark":{"type":"text","align":"left","baseline":"middle"},"encoding":{"x":{"field":"t","type":"quantitative","scale":{"domain":[0,10]},"title":"Time (1 s/div)"},"y":{"field":"v","type":"quantitative","scale":{"domain":[0,8]},"title":null},"text":{"field":"txt"}}},
{"data":{"name":"side"},"transform":[{"filter":"datum.k==='r'"}],"mark":{"type":"text","angle":270,"align":"center","baseline":"middle"},"encoding":{"x":{"field":"t","type":"quantitative","scale":{"domain":[0,10]},"title":"Time (1 s/div)"},"y":{"field":"v","type":"quantitative","scale":{"domain":[0,8]},"title":null},"text":{"field":"txt"}}},
{"data":{"name":"side"},"transform":[{"filter":"datum.k==='i'"}],"mark":{"type":"text","angle":270,"align":"center","baseline":"middle","fontStyle":"italic"},"encoding":{"x":{"field":"t","type":"quantitative","scale":{"domain":[0,10]},"title":"Time (1 s/div)"},"y":{"field":"v","type":"quantitative","scale":{"domain":[0,8]},"title":null},"text":{"field":"txt"}}},
{"data":{"name":"side"},"transform":[{"filter":"datum.k==='s'"}],"mark":{"type":"text","angle":270,"align":"center","baseline":"middle","fontSize":14},"encoding":{"x":{"field":"t","type":"quantitative","scale":{"domain":[0,10]},"title":"Time (1 s/div)"},"y":{"field":"v","type":"quantitative","scale":{"domain":[0,8]},"title":null},"text":{"field":"txt"}}},
{"data":{"name":"side"},"transform":[{"filter":"datum.k==='z'"}],"mark":{"type":"text","align":"center","baseline":"middle"},"encoding":{"x":{"field":"t","type":"quantitative","scale":{"domain":[0,10]},"title":"Time (1 s/div)"},"y":{"field":"v","type":"quantitative","scale":{"domain":[0,8]},"title":null},"text":{"field":"txt"}}},
{"data":{"name":"tri"},"transform":[{"filter":"datum.side==='L'"}],"mark":{"type":"point","shape":"triangle-right","filled":true,"opacity":1,"size":70},"encoding":{"x":{"field":"t","type":"quantitative","scale":{"domain":[0,10]},"title":"Time (1 s/div)"},"y":{"field":"v","type":"quantitative","scale":{"domain":[0,8]},"title":null},"color":{"field":"s","type":"nominal","scale":{"domain":["g","m","r","b"],"range":["#3a9a3a","#ff70ff","#ff3030","#3030ff"]},"legend":null}}},
{"data":{"name":"tri"},"transform":[{"filter":"datum.side==='R'"}],"mark":{"type":"point","shape":"triangle-left","filled":true,"opacity":1,"size":70},"encoding":{"x":{"field":"t","type":"quantitative","scale":{"domain":[0,10]},"title":"Time (1 s/div)"},"y":{"field":"v","type":"quantitative","scale":{"domain":[0,8]},"title":null},"color":{"field":"s","type":"nominal","scale":{"domain":["g","m","r","b"],"range":["#3a9a3a","#ff70ff","#ff3030","#3030ff"]},"legend":null}}}
]},
{"width":491,"height":238,"title":"(c)","layer":[
{"data":{"name":"steps"},"transform":[{"filter":"datum.p==='c'"}],"mark":{"type":"line","interpolate":"step-after","strokeWidth":1.4},"encoding":{"x":{"field":"t","type":"quantitative","scale":{"domain":[0,10]},"title":"Time (1 s/div)","axis":{"values":[1,2,3,4,5,6,7,8,9]}},"y":{"field":"v","type":"quantitative","scale":{"domain":[0,8]},"title":null,"axis":{"values":[1,2,3,4,5,6,7]}},"color":{"field":"c","type":"nominal","scale":{"domain":["g","m","r","b"],"range":["#3a9a3a","#ff70ff","#ff3030","#3030ff"]},"legend":null}}},
{"data":{"name":"err_c"},"mark":{"type":"line","color":"#ff3b3b","strokeWidth":1},"encoding":{"x":{"field":"t","type":"quantitative","scale":{"domain":[0,10]},"title":"Time (1 s/div)"},"y":{"field":"v","type":"quantitative","scale":{"domain":[0,8]},"title":null}}},
{"data":{"name":"cur_bc"},"mark":{"type":"line","interpolate":"monotone","color":"#3b3bff","strokeWidth":1},"encoding":{"x":{"field":"t","type":"quantitative","scale":{"domain":[0,10]},"title":"Time (1 s/div)"},"y":{"field":"v","type":"quantitative","scale":{"domain":[0,8]},"title":null}}},
{"data":{"name":"dash"},"transform":[{"filter":"datum.p==='c'"}],"mark":{"type":"rule","color":"#000000","strokeDash":[3,2],"strokeWidth":1.5},"encoding":{"x":{"field":"t","type":"quantitative","scale":{"domain":[0,10]},"title":"Time (1 s/div)"},"x2":{"field":"t2"},"y":{"field":"v","type":"quantitative","scale":{"domain":[0,8]},"title":null}}},
{"data":{"name":"arrows"},"transform":[{"filter":"datum.p==='c'"}],"mark":{"type":"rule","color":"#000000","strokeWidth":1.3},"encoding":{"x":{"field":"t","type":"quantitative","scale":{"domain":[0,10]},"title":"Time (1 s/div)"},"y":{"field":"v","type":"quantitative","scale":{"domain":[0,8]},"title":null},"x2":{"field":"t2"},"y2":{"field":"v2"}}},
{"data":{"name":"arrows"},"transform":[{"filter":"datum.p==='c' && datum.d==='ul'"}],"mark":{"type":"point","shape":"M0,0L-0.8,2L0.8,2Z","filled":true,"color":"#000000","opacity":1,"size":72,"angle":317,"strokeWidth":0},"encoding":{"x":{"field":"t2","type":"quantitative","scale":{"domain":[0,10]},"title":"Time (1 s/div)"},"y":{"field":"v2","type":"quantitative","scale":{"domain":[0,8]},"title":null}}},
{"data":{"name":"arrows"},"transform":[{"filter":"datum.p==='c' && datum.d==='ur'"}],"mark":{"type":"point","shape":"M0,0L-0.8,2L0.8,2Z","filled":true,"color":"#000000","opacity":1,"size":72,"angle":51,"strokeWidth":0},"encoding":{"x":{"field":"t2","type":"quantitative","scale":{"domain":[0,10]},"title":"Time (1 s/div)"},"y":{"field":"v2","type":"quantitative","scale":{"domain":[0,8]},"title":null}}},
{"data":{"name":"arrows"},"transform":[{"filter":"datum.p==='c' && datum.d==='dn'"}],"mark":{"type":"point","shape":"M0,0L-0.8,2L0.8,2Z","filled":true,"color":"#000000","opacity":1,"size":72,"angle":180,"strokeWidth":0},"encoding":{"x":{"field":"t2","type":"quantitative","scale":{"domain":[0,10]},"title":"Time (1 s/div)"},"y":{"field":"v2","type":"quantitative","scale":{"domain":[0,8]},"title":null}}},
{"data":{"name":"arrows"},"transform":[{"filter":"datum.p==='c' && datum.d==='up'"}],"mark":{"type":"point","shape":"M0,0L-0.8,2L0.8,2Z","filled":true,"color":"#000000","opacity":1,"size":72,"angle":0,"strokeWidth":0},"encoding":{"x":{"field":"t2","type":"quantitative","scale":{"domain":[0,10]},"title":"Time (1 s/div)"},"y":{"field":"v2","type":"quantitative","scale":{"domain":[0,8]},"title":null}}},
{"data":{"name":"labels"},"transform":[{"filter":"datum.p==='c'"}],"mark":{"type":"text","align":"left","baseline":"middle"},"encoding":{"x":{"field":"t","type":"quantitative","scale":{"domain":[0,10]},"title":"Time (1 s/div)"},"y":{"field":"v","type":"quantitative","scale":{"domain":[0,8]},"title":null},"text":{"field":"txt"}}},
{"data":{"name":"side"},"transform":[{"filter":"datum.k==='r'"}],"mark":{"type":"text","angle":270,"align":"center","baseline":"middle"},"encoding":{"x":{"field":"t","type":"quantitative","scale":{"domain":[0,10]},"title":"Time (1 s/div)"},"y":{"field":"v","type":"quantitative","scale":{"domain":[0,8]},"title":null},"text":{"field":"txt"}}},
{"data":{"name":"side"},"transform":[{"filter":"datum.k==='i'"}],"mark":{"type":"text","angle":270,"align":"center","baseline":"middle","fontStyle":"italic"},"encoding":{"x":{"field":"t","type":"quantitative","scale":{"domain":[0,10]},"title":"Time (1 s/div)"},"y":{"field":"v","type":"quantitative","scale":{"domain":[0,8]},"title":null},"text":{"field":"txt"}}},
{"data":{"name":"side"},"transform":[{"filter":"datum.k==='s'"}],"mark":{"type":"text","angle":270,"align":"center","baseline":"middle","fontSize":14},"encoding":{"x":{"field":"t","type":"quantitative","scale":{"domain":[0,10]},"title":"Time (1 s/div)"},"y":{"field":"v","type":"quantitative","scale":{"domain":[0,8]},"title":null},"text":{"field":"txt"}}},
{"data":{"name":"side"},"transform":[{"filter":"datum.k==='z'"}],"mark":{"type":"text","align":"center","baseline":"middle"},"encoding":{"x":{"field":"t","type":"quantitative","scale":{"domain":[0,10]},"title":"Time (1 s/div)"},"y":{"field":"v","type":"quantitative","scale":{"domain":[0,8]},"title":null},"text":{"field":"txt"}}},
{"data":{"name":"tri"},"transform":[{"filter":"datum.side==='L'"}],"mark":{"type":"point","shape":"triangle-right","filled":true,"opacity":1,"size":70},"encoding":{"x":{"field":"t","type":"quantitative","scale":{"domain":[0,10]},"title":"Time (1 s/div)"},"y":{"field":"v","type":"quantitative","scale":{"domain":[0,8]},"title":null},"color":{"field":"s","type":"nominal","scale":{"domain":["g","m","r","b"],"range":["#3a9a3a","#ff70ff","#ff3030","#3030ff"]},"legend":null}}},
{"data":{"name":"tri"},"transform":[{"filter":"datum.side==='R'"}],"mark":{"type":"point","shape":"triangle-left","filled":true,"opacity":1,"size":70},"encoding":{"x":{"field":"t","type":"quantitative","scale":{"domain":[0,10]},"title":"Time (1 s/div)"},"y":{"field":"v","type":"quantitative","scale":{"domain":[0,8]},"title":null},"color":{"field":"s","type":"nominal","scale":{"domain":["g","m","r","b"],"range":["#3a9a3a","#ff70ff","#ff3030","#3030ff"]},"legend":null}}}
]}
]
}
